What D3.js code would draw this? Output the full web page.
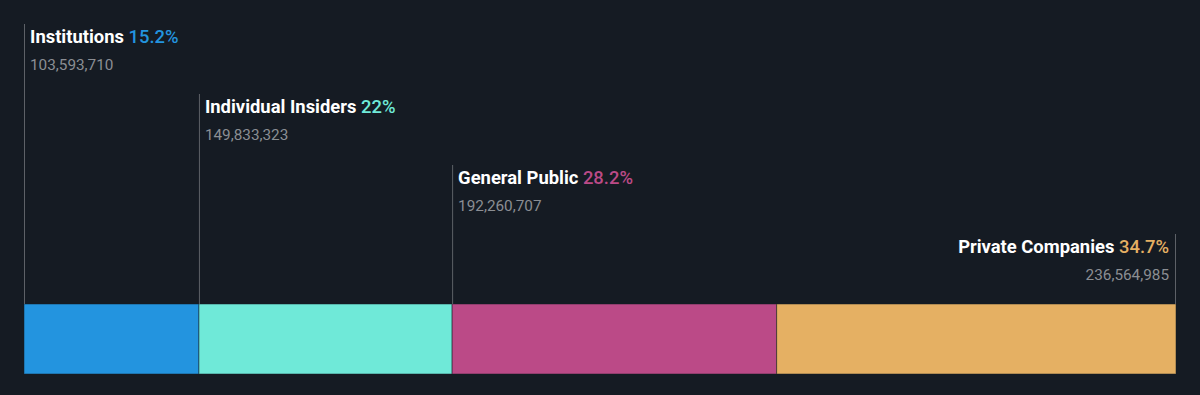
<!DOCTYPE html>
<html>
<head>
<meta charset="utf-8">
<script src="https://cdn.jsdelivr.net/npm/d3@7"></script>
<style>
  html, body { margin: 0; padding: 0; background: #151b23; }
  svg { display: block; font-family: Roboto, "Noto Sans", sans-serif; }
</style>
</head>
<body>
<div id="canvas"></div>
<script>
// -------------------------------------------- Data
const categories = ["Institutions", "Individual Insiders", "General Public", "Private Companies"];
const percents = [15.2, 22, 28.2, 34.7];
const percentLabels = ["15.2%", "22%", "28.2%", "34.7%"];
const shares = ["103,593,710", "149,833,323", "192,260,707", "236,564,985"];
const colors = ["#2394df", "#6fe9d8", "#bb4a87", "#e5b063"];

// -------------------------------------------- Dimensiones
const width = 1200;
const height = 395;
const margin = { left: 24, right: 24 };
const barTop = 304;
const barHeight = 70;
const labelTops = [24, 94, 165, 234];

const svg = d3.select("#canvas").append("svg")
  .attr("width", width)
  .attr("height", height);

svg.append("rect")
  .attr("width", width)
  .attr("height", height)
  .attr("fill", "#151b23");

// -- Escala
const total = d3.sum(percents);
const x = d3.scaleLinear().domain([0, total]).range([margin.left, width - margin.right]);

const starts = [];
let acc = 0;
percents.forEach((p) => { starts.push(acc); acc += p; });

const data = categories.map((c, i) => ({
  name: c, pct: percents[i], label: percentLabels[i], shares: shares[i],
  color: colors[i], start: starts[i], top: labelTops[i], last: i === categories.length - 1
}));

// -- Barras
svg.selectAll("rect.bar")
  .data(data)
  .enter()
  .append("rect")
  .attr("class", "bar")
  .attr("x", (d) => x(d.start))
  .attr("y", barTop)
  .attr("width", (d) => x(d.start + d.pct) - x(d.start))
  .attr("height", barHeight)
  .attr("fill", (d) => d.color)
  .attr("stroke", "#151b23")
  .attr("stroke-opacity", 0.5)
  .attr("stroke-width", 1);

// -- Lineas guia
const lineX = (d) => (d.last ? x(total) - 0.5 : x(d.start) + 0.5);

svg.selectAll("line.guide")
  .data(data)
  .enter()
  .append("line")
  .attr("class", "guide")
  .attr("x1", lineX)
  .attr("x2", lineX)
  .attr("y1", (d) => d.top)
  .attr("y2", barTop)
  .attr("stroke", "#5d6167")
  .attr("stroke-width", 1);

// -- Etiquetas
const labels = svg.selectAll("g.label")
  .data(data)
  .enter()
  .append("g")
  .attr("class", "label");

const name = labels.append("text")
  .attr("x", (d) => (d.last ? x(total) - 7 : x(d.start) + 6))
  .attr("y", (d) => d.top + 19)
  .attr("text-anchor", (d) => (d.last ? "end" : "start"))
  .attr("font-size", 18.4)
  .attr("font-weight", "bold");

name.append("tspan")
  .attr("fill", "#ffffff")
  .text((d) => d.name + " ");

name.append("tspan")
  .attr("fill", (d) => d.color)
  .attr("font-weight", 500)
  .text((d) => d.label);

labels.append("text")
  .attr("x", (d) => (d.last ? x(total) - 7 : x(d.start) + 6))
  .attr("y", (d) => d.top + 46)
  .attr("text-anchor", (d) => (d.last ? "end" : "start"))
  .attr("font-size", 15.3)
  .attr("fill", "#8b8e93")
  .text((d) => d.shares);
</script>
</body>
</html>
